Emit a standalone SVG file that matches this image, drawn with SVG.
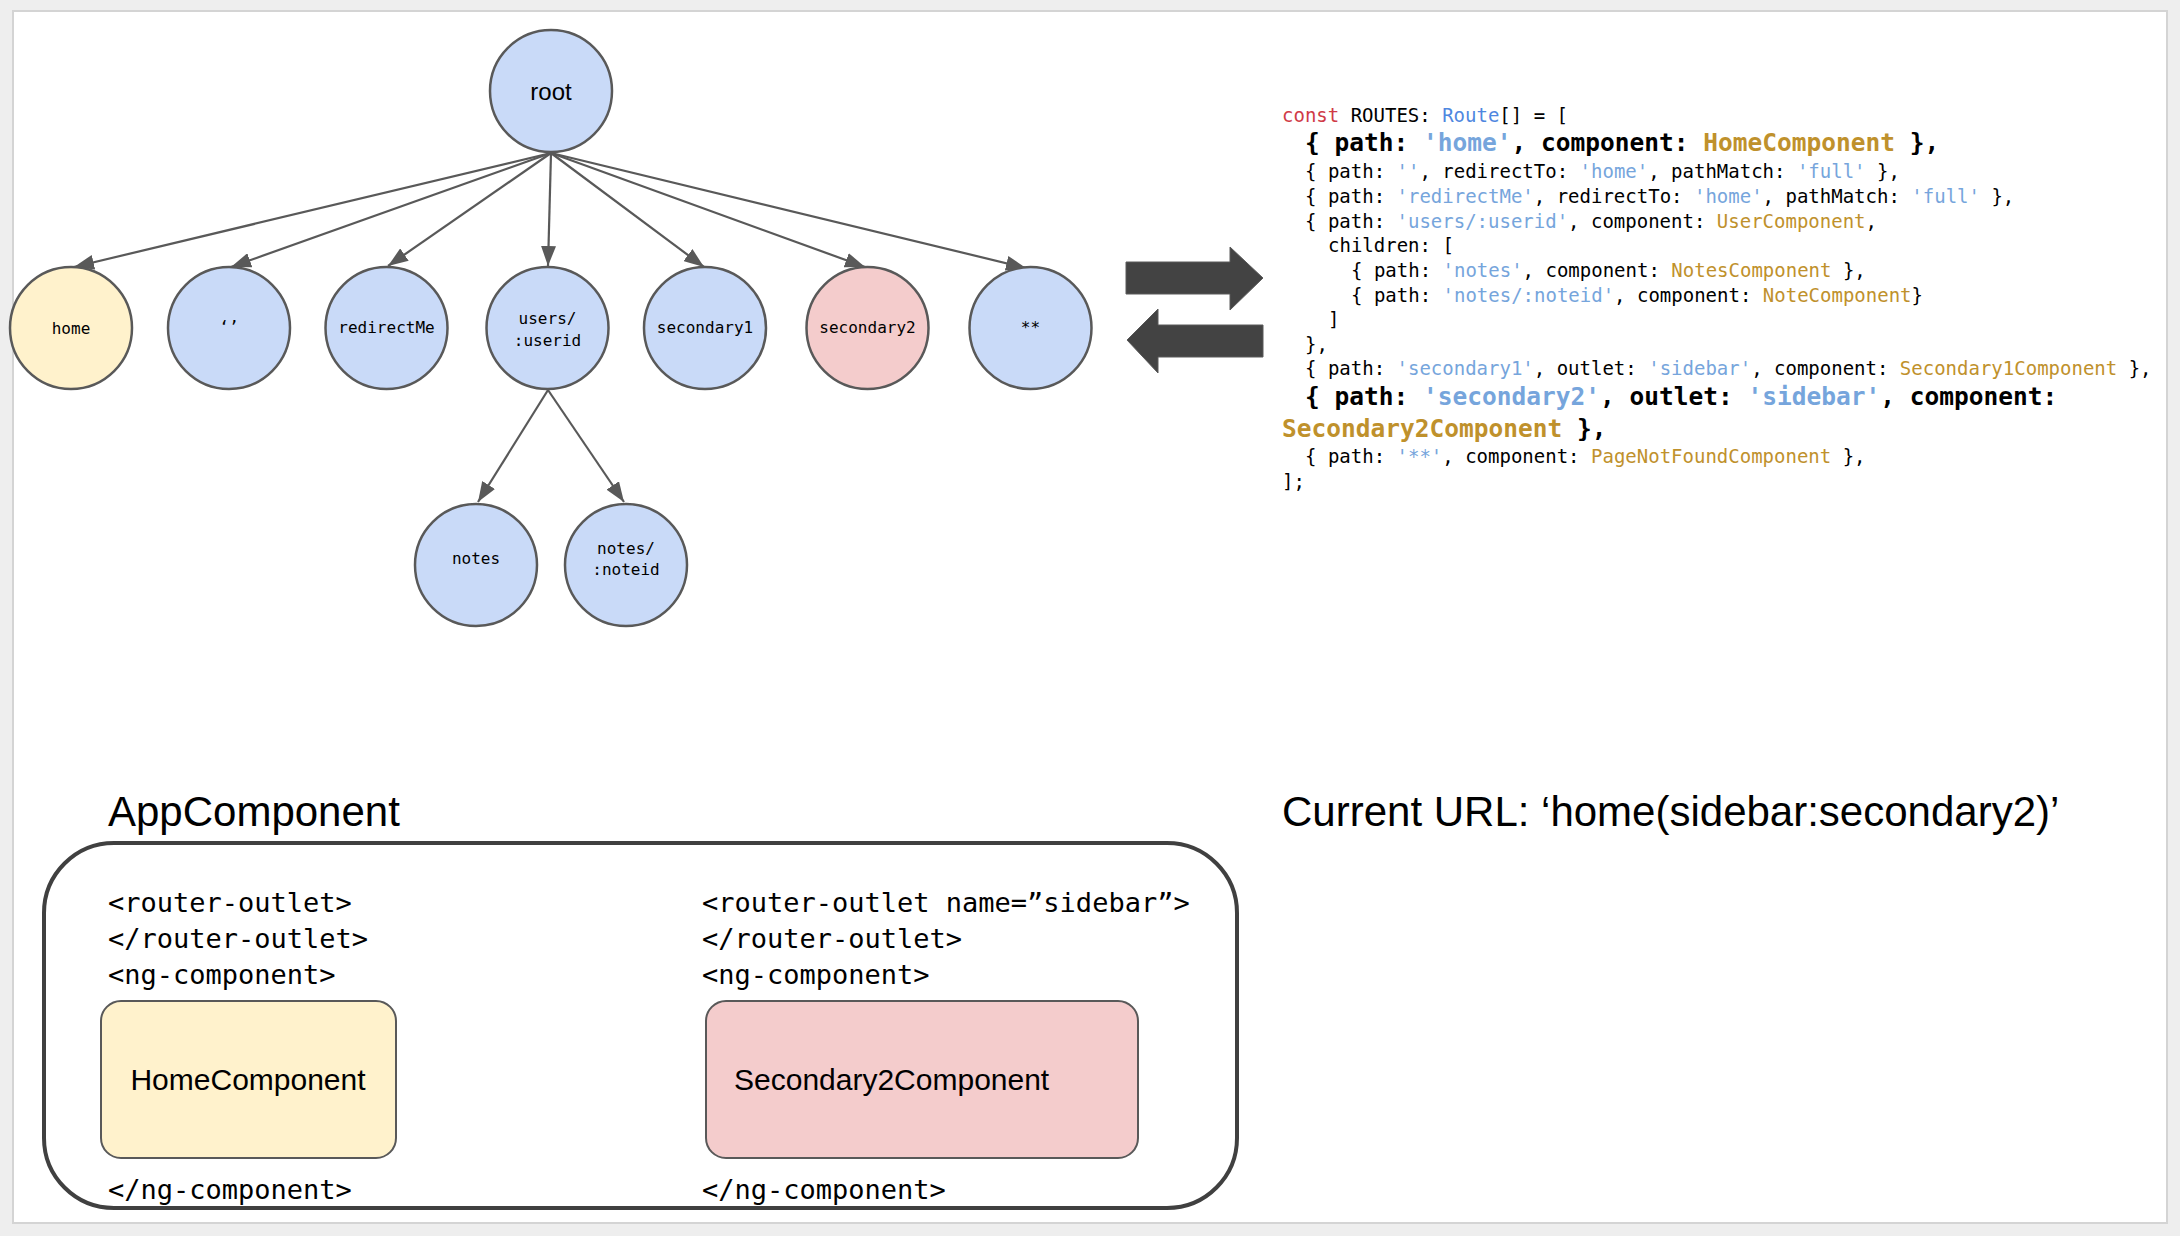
<svg xmlns="http://www.w3.org/2000/svg" width="2180" height="1236" viewBox="0 0 2180 1236">
<style>
.node{stroke:#595959;stroke-width:2.5}
.blue{fill:#c9daf8}
.yellow{fill:#fff2cc}
.red{fill:#f4cccc}
.lbl{font-family:"DejaVu Sans Mono",monospace;font-size:16px;fill:#000;text-anchor:middle}
.sans{font-family:"Liberation Sans",Arial,sans-serif;fill:#000}
.code{font-family:"DejaVu Sans Mono",monospace;font-size:19px;fill:#000}
.codeb{font-family:"DejaVu Sans Mono",monospace;font-size:24.5px;font-weight:bold;fill:#000}
.k{fill:#d03b47}
.t{fill:#4f87e0}
.s{fill:#76a5dc}
.c{fill:#bf912c}
.tag{font-family:"DejaVu Sans Mono",monospace;font-size:27px;fill:#000}
.edge{stroke:#595959;stroke-width:2.2;fill:none}
.block{fill:#434343;stroke:#5a5a5a;stroke-width:1}
</style>
<defs>
<marker id="ah" markerUnits="userSpaceOnUse" markerWidth="20" markerHeight="15" refX="20" refY="7.5" orient="auto">
<path d="M0,0 L20,7.5 L0,15 z" fill="#595959"/>
</marker>
</defs>
<rect x="0" y="0" width="2180" height="1236" fill="#eeeeee"/>
<rect x="13" y="11" width="2154" height="1212" fill="#ffffff" stroke="#d4d4d4" stroke-width="2"/>

<g id="connectors">
<line class="edge" x1="551" y1="153" x2="74" y2="267" marker-end="url(#ah)"/>
<line class="edge" x1="551" y1="153" x2="231" y2="267" marker-end="url(#ah)"/>
<line class="edge" x1="551" y1="153" x2="388" y2="266" marker-end="url(#ah)"/>
<line class="edge" x1="551" y1="153" x2="548" y2="266" marker-end="url(#ah)"/>
<line class="edge" x1="551" y1="153" x2="704" y2="267" marker-end="url(#ah)"/>
<line class="edge" x1="551" y1="153" x2="865" y2="267" marker-end="url(#ah)"/>
<line class="edge" x1="551" y1="153" x2="1026" y2="268" marker-end="url(#ah)"/>
<line class="edge" x1="548" y1="390" x2="478" y2="502" marker-end="url(#ah)"/>
<line class="edge" x1="548" y1="390" x2="624" y2="502" marker-end="url(#ah)"/>
</g>

<g id="node-root"><circle class="node blue" cx="551" cy="91" r="61"/><text class="sans" x="551" y="100" font-size="24" text-anchor="middle">root</text></g>
<g id="node-home"><circle class="node yellow" cx="71" cy="328" r="61"/><text class="lbl" x="71" y="334">home</text></g>
<g id="node-empty"><circle class="node blue" cx="229" cy="328" r="61"/><text class="lbl" x="229" y="332">‘’</text></g>
<g id="node-redirectMe"><circle class="node blue" cx="386.5" cy="328" r="61"/><text class="lbl" x="386.5" y="333">redirectMe</text></g>
<g id="node-users"><circle class="node blue" cx="547.5" cy="328" r="61"/><text class="lbl" x="547.5" y="324">users/</text><text class="lbl" x="547.5" y="346">:userid</text></g>
<g id="node-secondary1"><circle class="node blue" cx="705" cy="328" r="61"/><text class="lbl" x="705" y="333">secondary1</text></g>
<g id="node-secondary2"><circle class="node red" cx="867.5" cy="328" r="61"/><text class="lbl" x="867.5" y="333">secondary2</text></g>
<g id="node-wildcard"><circle class="node blue" cx="1030.5" cy="328" r="61"/><text class="lbl" x="1030.5" y="333">**</text></g>
<g id="node-notes"><circle class="node blue" cx="476" cy="565" r="61"/><text class="lbl" x="476" y="564">notes</text></g>
<g id="node-noteid"><circle class="node blue" cx="626" cy="565" r="61"/><text class="lbl" x="626" y="554">notes/</text><text class="lbl" x="626" y="575">:noteid</text></g>

<g id="swap-arrows">
<polygon class="block" points="1126,262 1230,262 1230,247 1263,278 1230,310 1230,294 1126,294"/>
<polygon class="block" points="1263,325 1158,325 1158,309 1127,340 1158,373 1158,357 1263,357"/>
</g>

<g id="routes-code" xml:space="preserve">
<text class="code" x="1282" y="122"><tspan class="k">const</tspan> ROUTES: <tspan class="t">Route</tspan>[] = [</text>
<text class="codeb" x="1305" y="151">{ path: <tspan class="s">'home'</tspan>, component: <tspan class="c">HomeComponent</tspan> },</text>
<text class="code" x="1305" y="178">{ path: <tspan class="s">''</tspan>, redirectTo: <tspan class="s">'home'</tspan>, pathMatch: <tspan class="s">'full'</tspan> },</text>
<text class="code" x="1305" y="203">{ path: <tspan class="s">'redirectMe'</tspan>, redirectTo: <tspan class="s">'home'</tspan>, pathMatch: <tspan class="s">'full'</tspan> },</text>
<text class="code" x="1305" y="228">{ path: <tspan class="s">'users/:userid'</tspan>, component: <tspan class="c">UserComponent</tspan>,</text>
<text class="code" x="1328" y="252">children: [</text>
<text class="code" x="1351" y="277">{ path: <tspan class="s">'notes'</tspan>, component: <tspan class="c">NotesComponent</tspan> },</text>
<text class="code" x="1351" y="302">{ path: <tspan class="s">'notes/:noteid'</tspan>, component: <tspan class="c">NoteComponent</tspan>}</text>
<text class="code" x="1328" y="326">]</text>
<text class="code" x="1305" y="351">},</text>
<text class="code" x="1305" y="375">{ path: <tspan class="s">'secondary1'</tspan>, outlet: <tspan class="s">'sidebar'</tspan>, component: <tspan class="c">Secondary1Component</tspan> },</text>
<text class="codeb" x="1305" y="405">{ path: <tspan class="s">'secondary2'</tspan>, outlet: <tspan class="s">'sidebar'</tspan>, component:</text>
<text class="codeb" x="1282" y="437"><tspan class="c">Secondary2Component</tspan> },</text>
<text class="code" x="1305" y="463">{ path: <tspan class="s">'**'</tspan>, component: <tspan class="c">PageNotFoundComponent</tspan> },</text>
<text class="code" x="1282" y="488">];</text>
</g>

<g id="current-url"><text class="sans" x="1282" y="826" font-size="42">Current URL: ‘home(sidebar:secondary2)’</text></g>

<g id="app-component">
<text class="sans" x="108" y="826" font-size="42">AppComponent</text>
<rect x="44" y="843" width="1193" height="365" rx="70" ry="70" fill="#ffffff" stroke="#404040" stroke-width="4"/>
<text class="tag" x="108" y="912">&lt;router-outlet&gt;</text>
<text class="tag" x="108" y="948">&lt;/router-outlet&gt;</text>
<text class="tag" x="108" y="984">&lt;ng-component&gt;</text>
<text class="tag" x="108" y="1199">&lt;/ng-component&gt;</text>
<text class="tag" x="702" y="912">&lt;router-outlet name=”sidebar”&gt;</text>
<text class="tag" x="702" y="948">&lt;/router-outlet&gt;</text>
<text class="tag" x="702" y="984">&lt;ng-component&gt;</text>
<text class="tag" x="702" y="1199">&lt;/ng-component&gt;</text>
</g>
<g id="node-home-component"><rect x="101" y="1001" width="295" height="157" rx="20" ry="20" fill="#fff2cc" stroke="#595959" stroke-width="2"/><text class="sans" x="248" y="1090" font-size="30" text-anchor="middle">HomeComponent</text></g>
<g id="node-secondary2-component"><rect x="706" y="1001" width="432" height="157" rx="20" ry="20" fill="#f4cccc" stroke="#595959" stroke-width="2"/><text class="sans" x="734" y="1090" font-size="30">Secondary2Component</text></g>
</svg>
